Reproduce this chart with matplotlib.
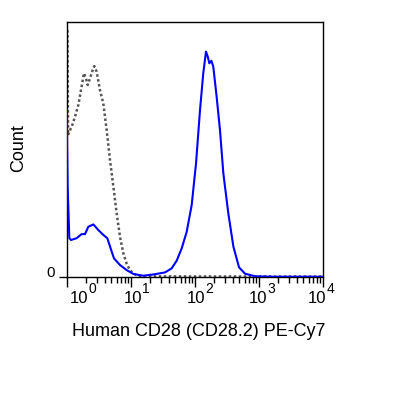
"""Flow cytometry histogram: CD28 staining vs isotype control (PE-Cy7)."""
import matplotlib

matplotlib.use("Agg")
import matplotlib.pyplot as plt  # noqa: E402
from matplotlib.transforms import ScaledTranslation  # noqa: E402

plt.rcParams["font.family"] = ["Liberation Sans", "DejaVu Sans"]

# stained sample (blue)
stain_x = [1.0, 1.035, 1.10, 1.17, 1.43, 1.71, 1.93, 2.18, 2.61, 3.12, 3.73, 4.31,
           4.86, 5.48, 6.80, 8.65, 11.0, 15.7, 22.6, 34.4, 43.7, 52.3, 62.6, 74.9,
           89.7, 104.8, 121, 136, 150, 160, 169, 182, 195, 220, 248, 280, 335, 402,
           492, 611, 875, 1700, 10000]
stain_y = [65.4, 35.4, 15.2, 14.5, 15.2, 16.8, 16.8, 19.7, 20.6, 18.4, 16.5, 15.2,
           11.2, 7.3, 4.7, 2.7, 1.2, 0.5, 1.0, 1.8, 3.4, 6.4, 11.2, 17.7,
           28.2, 44.5, 65.4, 79.8, 88.3, 86.3, 83.7, 84.7, 82.4, 70.6, 57.6, 40.6, 24.9, 11.9,
           3.8, 1.3, 0.3, 0.1, 0.1]

# isotype control (grey dotted)
ctrl_x = [1.03, 1.05, 1.10, 1.20, 1.35, 1.52, 1.71, 1.86, 2.00, 2.13, 2.31, 2.55,
          2.70, 2.94, 3.31, 3.73, 4.21, 4.75, 5.36, 6.04, 6.80, 7.67, 8.65, 9.75,
          11.7, 14.0, 100, 1000, 10000]
ctrl_y = [96.7, 55.6, 57.0, 58.9, 62.8, 67.4, 74.6, 79.8, 77.8, 75.2, 77.8, 81.1,
          82.6, 80.4, 73.2, 68.0, 57.6, 45.8, 35.4, 24.9, 15.8, 9.3, 5.2, 2.6,
          1.0, 0.3, 0.2, 0.2, 0.2]

decades = [1, 10, 100, 1000, 10000]
exponents = ["0", "1", "2", "3", "4"]
label_shift = [12.5, 2, 1, -0.5, -6]  # px, how FlowJo nudges each decade label

fig = plt.figure(figsize=(4.15, 3.98), dpi=100)
ax = fig.add_axes([0.1607, 0.304, 0.617, 0.6415])

ax.plot(ctrl_x, ctrl_y, color="#555555", lw=1.8, linestyle=(0, (1, 1)), zorder=2)
ax.plot(stain_x, stain_y, color="#0000ff", lw=1.5, zorder=3)

ax.set_xscale("log")
ax.set_xlim(1, 10000)
ax.set_ylim(0, 100)
ax.set_xticks(decades)
ax.set_xticklabels([])
ax.set_xticks([m * d for d in decades[:-1] for m in range(2, 10)], minor=True)
ax.xaxis.set_minor_formatter(plt.NullFormatter())
ax.tick_params(axis="x", which="major", length=7, width=1, direction="out")
ax.tick_params(axis="x", which="minor", length=4, width=1, direction="out")
ax.set_yticks([0])
ax.set_yticklabels([])
ax.tick_params(axis="y", length=6, width=1, direction="out")

px = fig.dpi_scale_trans
xt = ax.get_xaxis_transform()
for d, e, dx in zip(decades, exponents, label_shift):
    ax.text(d, 0, "10", fontsize=12, ha="center", va="baseline",
            transform=xt + ScaledTranslation(dx / 100, -26 / 100, px))
    ax.text(d, 0, e, fontsize=10, ha="left", va="baseline",
            transform=xt + ScaledTranslation((dx + 9.5) / 100, -16 / 100, px))

ax.text(0, 0, "0", fontsize=11, ha="right", va="baseline",
        transform=ax.transAxes + ScaledTranslation(-11.5 / 100, 0, px))

for s in ax.spines.values():
    s.set_linewidth(1)
    s.set_color("black")

fig.text(0.046, 0.628, "Count", rotation=90, fontsize=13, ha="center", va="center")
fig.text(0.478, 0.168, "Human CD28 (CD28.2) PE-Cy7", fontsize=13, ha="center", va="center")

fig.savefig("out.png", dpi=100)
plt.close(fig)
